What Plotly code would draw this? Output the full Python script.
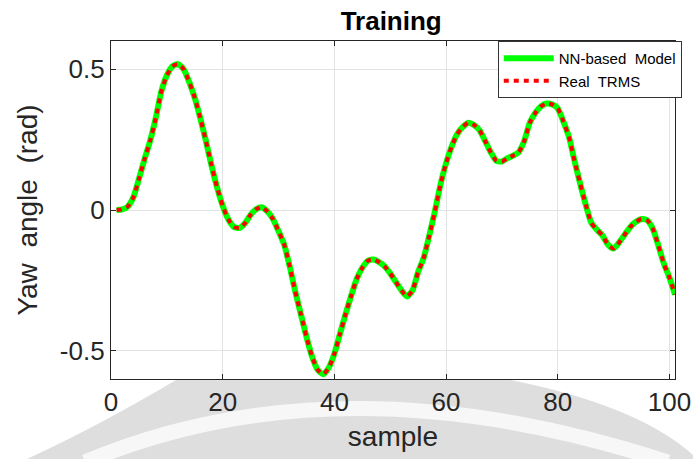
import plotly.graph_objects as go

# ---- data ----
samples = list(range(1, 102))

real_trms = [
    0.000, 0.002, 0.012, 0.045, 0.110, 0.180, 0.245, 0.325, 0.420, 0.478,
    0.510, 0.518, 0.500, 0.455, 0.398, 0.325, 0.245, 0.158, 0.080, 0.015,
    -0.033, -0.060, -0.064, -0.047, -0.017, 0.003, 0.010, -0.005, -0.032, -0.075,
    -0.122, -0.200, -0.290, -0.370, -0.450, -0.520, -0.567, -0.583, -0.560, -0.510,
    -0.440, -0.370, -0.305, -0.245, -0.205, -0.180, -0.176, -0.185, -0.200, -0.225,
    -0.255, -0.285, -0.307, -0.285, -0.220, -0.170, -0.090, -0.005, 0.090, 0.166,
    0.225, 0.270, 0.295, 0.310, 0.302, 0.283, 0.245, 0.205, 0.175, 0.172,
    0.184, 0.193, 0.205, 0.245, 0.310, 0.345, 0.368, 0.378, 0.375, 0.361,
    0.315, 0.260, 0.175, 0.095, 0.020, -0.045, -0.070, -0.090, -0.123, -0.137,
    -0.115, -0.087, -0.060, -0.042, -0.032, -0.036, -0.065, -0.125, -0.190, -0.240,
    -0.300,
]

nn_model = [
    0.000, 0.002, 0.012, 0.045, 0.110, 0.180, 0.245, 0.325, 0.420, 0.478,
    0.510, 0.518, 0.500, 0.455, 0.398, 0.325, 0.245, 0.158, 0.080, 0.015,
    -0.033, -0.060, -0.064, -0.047, -0.017, 0.003, 0.010, -0.005, -0.032, -0.075,
    -0.122, -0.200, -0.290, -0.370, -0.450, -0.520, -0.567, -0.583, -0.560, -0.510,
    -0.440, -0.370, -0.305, -0.245, -0.205, -0.180, -0.176, -0.185, -0.200, -0.225,
    -0.255, -0.285, -0.307, -0.285, -0.220, -0.170, -0.090, -0.005, 0.090, 0.166,
    0.225, 0.270, 0.295, 0.310, 0.302, 0.283, 0.245, 0.205, 0.175, 0.172,
    0.184, 0.193, 0.205, 0.245, 0.310, 0.345, 0.368, 0.378, 0.375, 0.361,
    0.315, 0.260, 0.175, 0.095, 0.020, -0.045, -0.070, -0.090, -0.123, -0.137,
    -0.115, -0.087, -0.060, -0.042, -0.032, -0.036, -0.065, -0.125, -0.190, -0.240,
    -0.300,
]

x_ticks = [0, 20, 40, 60, 80, 100]
y_ticks = [-0.5, 0, 0.5]
y_tick_text = ["-0.5", "0", "0.5"]

title_text = "Training"
x_title = "sample"
y_title = "Yaw\u00a0 angle\u00a0 (rad)"
names = ["NN-based\u00a0 Model", "Real\u00a0 TRMS"]

FONT = "Liberation Sans, Arial, sans-serif"
AX = "#262626"

W, H = 693, 459
ML, MR, MT, MB = 111, 18, 41, 80
PW, PH = W - ML - MR, H - MT - MB


def P(x, y):
    """pixel position -> paper coordinates string (for the background watermark)."""
    return f"{(x - ML) / PW:.4f},{(H - MB - y) / PH:.4f}"


# light grey watermark seen below the axes in the reference (decoration only)
wm_fill = ("M " + P(27, 459) + " Q " + P(95, 428) + " " + P(177, 379.6)
           + " L " + P(508, 379.6) + " Q " + P(637, 405) + " " + P(693, 455)
           + " L " + P(693, 459) + " Z")
wm_band = "M " + P(85, 462) + " Q " + P(340, 355) + " " + P(668, 462)

fig = go.Figure()
fig.add_trace(go.Scatter(
    x=samples, y=nn_model, mode="lines", name=names[0],
    line=dict(color="#00ff00", width=6, shape="spline", smoothing=0.6),
))
fig.add_trace(go.Scatter(
    x=samples, y=real_trms, mode="lines", name=names[1],
    line=dict(color="#ff0000", width=4, dash="5px,5px", shape="spline", smoothing=0.6),
))

fig.update_layout(
    width=W, height=H,
    margin=dict(l=ML, r=MR, t=MT, b=MB, autoexpand=False),
    paper_bgcolor="white", plot_bgcolor="white",
    font=dict(family=FONT, color=AX),
    title=dict(text="<b>" + title_text + "</b>", x=0.5645, xanchor="center",
               y=0.955, yanchor="middle", yref="container",
               font=dict(size=26, color="black", family=FONT)),
    legend=dict(x=1.012, y=1, xanchor="right", yanchor="top",
                bgcolor="white", bordercolor="#333333", borderwidth=1,
                font=dict(size=15, color="black", family=FONT),
                tracegroupgap=0, itemwidth=50),
    showlegend=True,
    shapes=[
        dict(type="path", xref="paper", yref="paper", path=wm_fill,
             fillcolor="#dedede", line=dict(width=0), layer="below"),
        dict(type="path", xref="paper", yref="paper", path=wm_band,
             line=dict(color="#f7f7f7", width=15), layer="below"),
    ],
)

fig.update_xaxes(
    range=[0, 101], tickvals=x_ticks, ticks="inside", ticklen=5, tickwidth=1,
    tickcolor=AX, showline=True, linecolor=AX, linewidth=1.3, mirror="ticks",
    showgrid=True, gridcolor="#e3e3e3", gridwidth=1, zeroline=False,
    automargin=False,
    tickfont=dict(size=26, color=AX, family=FONT),
    title=dict(text=x_title, font=dict(size=28, color=AX, family=FONT), standoff=10),
)
fig.update_yaxes(
    range=[-0.6, 0.6], tickvals=y_ticks, ticktext=y_tick_text, ticks="inside",
    ticklen=5, tickwidth=1, tickcolor=AX, showline=True, linecolor=AX,
    linewidth=1.3, mirror="ticks", showgrid=True, gridcolor="#e3e3e3",
    gridwidth=1, zeroline=False, automargin=False,
    tickfont=dict(size=26, color=AX, family=FONT),
    title=dict(text=y_title, font=dict(size=28, color=AX, family=FONT), standoff=14),
)

fig.write_html("out.html")
